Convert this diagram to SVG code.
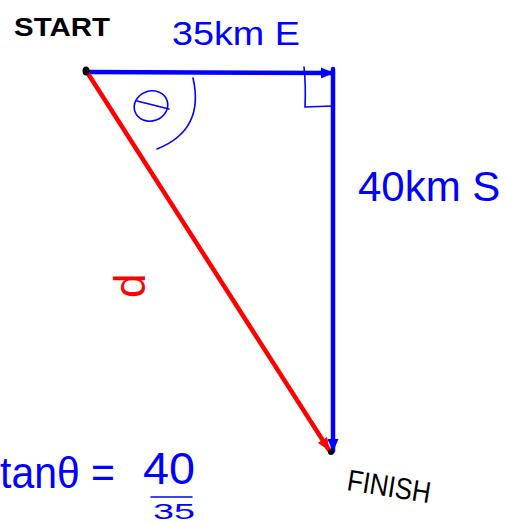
<svg xmlns="http://www.w3.org/2000/svg" width="506" height="525" viewBox="0 0 506 525">
<style>
.blue{fill:#0000ff;font-family:"Liberation Sans",sans-serif}
.black{fill:#000;font-family:"Liberation Sans",sans-serif}
.red{fill:#ff0000;font-family:"Liberation Sans",sans-serif}
.vec{fill:none;stroke-width:4.5;stroke-linecap:round}
.thin{fill:none;stroke:#0000ff;stroke-width:1.6;stroke-linecap:round}
</style>
<defs>
<marker id="ab" markerWidth="13" markerHeight="11" refX="12" refY="5.5" orient="auto" markerUnits="userSpaceOnUse"><path d="M0,0 L13,5.5 L0,11 Z" fill="#0000ff"/></marker>
<marker id="ar" markerWidth="13" markerHeight="11" refX="12" refY="5.5" orient="auto" markerUnits="userSpaceOnUse"><path d="M0,0 L13,5.5 L0,11 Z" fill="#ff0000"/></marker>
</defs>
<rect width="506" height="525" fill="#fff"/>
<g id="connectors">
<line class="vec" x1="87" y1="72" x2="333" y2="73" stroke="#0000ff" marker-end="url(#ab)"/>
<line class="vec" x1="333" y1="69" x2="333" y2="451" stroke="#0000ff" marker-end="url(#ab)"/>
<line class="vec" x1="87" y1="72" x2="329" y2="450" stroke="#ff0000" marker-end="url(#ar)"/>
</g>
<g id="start">
<ellipse cx="86" cy="71" rx="3.5" ry="4.5" fill="#000"/>
<text class="black" x="14" y="36" font-size="25" font-weight="bold" textLength="96" lengthAdjust="spacingAndGlyphs">START</text>
</g>
<g id="finish">
<circle cx="331" cy="452" r="3" fill="#000"/>
<text class="black" transform="translate(346,490) rotate(9)" font-size="30" textLength="84" lengthAdjust="spacingAndGlyphs">FINISH</text>
</g>
<g id="angle">
<path class="thin" d="M193,78 Q205,130 157,149"/>
<ellipse class="thin" cx="151" cy="106" rx="17" ry="15" transform="rotate(-20 151 106)"/>
<path class="thin" d="M137,101 L169,109"/>
<path class="thin" d="M304,67 Q306,85 305,107 L333,106"/>
</g>
<g id="labels">
<text class="blue" x="172" y="45" font-size="34" textLength="128" lengthAdjust="spacingAndGlyphs">35km E</text>
<text class="blue" x="358" y="201" font-size="42">40km S</text>
<text class="red" transform="translate(145,298) rotate(-90)" font-size="44">d</text>
<text class="blue" x="0" y="488" font-size="44" textLength="115" lengthAdjust="spacingAndGlyphs">tanθ =</text>
<text class="blue" x="143" y="484" font-size="44" textLength="52" lengthAdjust="spacingAndGlyphs">40</text>
<line class="thin" x1="151" y1="497" x2="192" y2="497"/>
<text class="blue" x="153" y="519" font-size="22" textLength="42" lengthAdjust="spacingAndGlyphs">35</text>
</g>
</svg>
